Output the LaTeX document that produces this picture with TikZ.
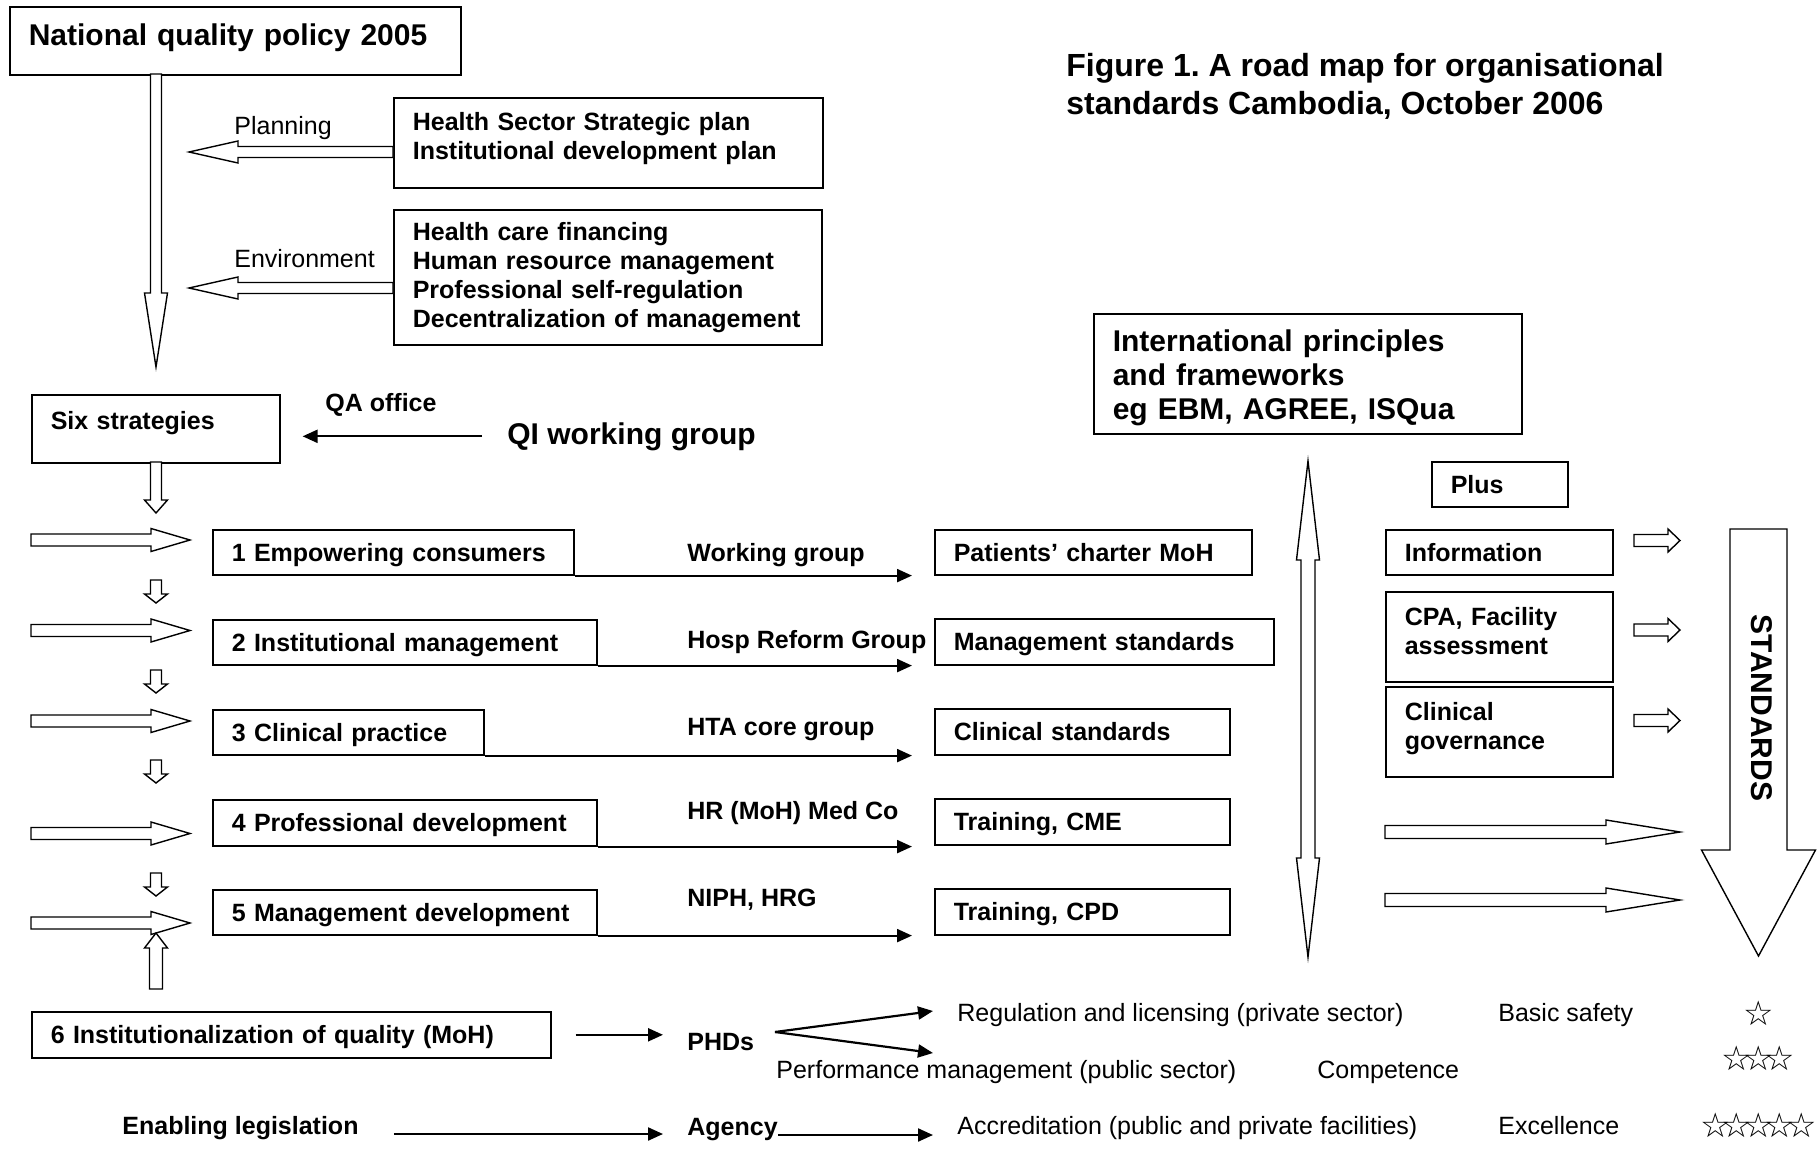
\documentclass[tikz,border=0pt]{standalone}
\usepackage{fontspec}
\setmainfont{Liberation Sans}
\newfontfamily\starfont{DejaVu Sans}
\usepackage{tikz}
\usetikzlibrary{arrows.meta}
\frenchspacing

\newcommand{\smtxt}{\fontsize{12.5pt}{14.5pt}\selectfont}
\newcommand{\bgtxt}{\fontsize{15pt}{17pt}\selectfont}
\newcommand{\tltxt}{\fontsize{16pt}{19pt}\selectfont}
\newcommand{\sttxt}{\starfont\bfseries\fontsize{17pt}{18pt}\selectfont}
% hollow block arrow: tip, direction, length, shaft half width, head half width, head length
\newcommand{\blockarrow}[6]{%
	\draw[hollow, shift={#1}, rotate=#2] (0,0) -- (-#6,#5) -- (-#6,#4) -- (-#3,#4)
	-- (-#3,-#4) -- (-#6,-#4) -- (-#6,-#5) -- cycle;}

\begin{document}
\begin{tikzpicture}[x=0.5pt, y=-0.5pt,
	box/.style 2 args={draw, line width=0.8pt, anchor=north west, align=left,
		inner xsep=9.5pt, inner ysep=0pt, font=\smtxt\bfseries,
		text width=#1, minimum height=#2, text depth=0pt},
	lbl/.style={anchor=base west, inner sep=0pt, font=\smtxt},
	hollow/.style={draw, fill=white, line width=0.7pt},
	conn/.style={line width=1.1pt, -{Triangle[length=7.5pt,width=6.5pt]}},
	stars/.style={font=\sttxt, inner sep=0pt}]
	\useasboundingbox (0,0) rectangle (1817,1151);

	% Policy and plans
	\node[box={206.5pt}{34pt}, font=\bgtxt\bfseries, text depth=6.6pt] (natl) at (9,6) {National quality policy 2005};
	\node[box={195.5pt}{45pt}, text depth=21.7pt] (hsp) at (393,97) {Health Sector Strategic plan\\Institutional development plan};
	\node[box={195pt}{67.5pt}, text depth=46pt] (env) at (393,209) {Health care financing\\Human resource management\\Professional self-regulation\\Decentralization of management};
	\node[lbl] (plan) at (234,134) {Planning};
	\node[lbl] (envlbl) at (234,267) {Environment};
	\node[anchor=north west, inner sep=0pt, align=left, font=\tltxt\bfseries] (title) at (1066,53)
		{Figure 1. A road map for organisational\\standards Cambodia, October 2006};

	\blockarrow{(189,152)}{180}{204}{5.5}{11}{49}
	\blockarrow{(189,288)}{180}{204}{5.5}{11}{49}
	\blockarrow{(156,367)}{-90}{293}{5.5}{11.5}{74}

	% Six strategies
	\node[box={105pt}{34pt}, text depth=8pt] (six) at (31,394) {Six strategies};
	\node[lbl, font=\smtxt\bfseries] (qa) at (325,411) {QA office};
	\node[lbl, font=\bgtxt\bfseries] (qi) at (507,444) {QI working group};
	\draw[conn, shorten <=12.5pt, shorten >=11pt] (qi.west) -- (qi.west -| six.east);
	\blockarrow{(156,513)}{-90}{51}{5.5}{11.5}{13}

	\node[box={161.5pt}{22.5pt}] (b1) at (212,529) {1 Empowering consumers};
	\node[box={173pt}{22.5pt}] (b2) at (212,619) {2 Institutional management};
	\node[box={116.5pt}{22.5pt}] (b3) at (212,709) {3 Clinical practice};
	\node[box={173pt}{23pt}] (b4) at (212,799) {4 Professional development};
	\node[box={173pt}{22.5pt}] (b5) at (212,889) {5 Management development};
	\node[box={240.5pt}{23pt}] (b6) at (31,1011) {6 Institutionalization of quality (MoH)};

	\foreach \y in {540,630.5,721,833.5,923}
		{\blockarrow{(190,\y)}{0}{159}{6}{11.5}{39}}
	\foreach \y in {603,693,783,896}
		{\blockarrow{(156,\y)}{-90}{23}{5.5}{11.5}{9}}
	\blockarrow{(156,933)}{90}{56}{6.5}{11.5}{15}

	% Groups and standards
	\node[lbl, font=\smtxt\bfseries] (wg) at (687,561) {Working group};
	\node[lbl, font=\smtxt\bfseries] (hrg) at (687,648) {Hosp Reform Group};
	\node[lbl, font=\smtxt\bfseries] (hta) at (687,735) {HTA core group};
	\node[lbl, font=\smtxt\bfseries] (hr) at (687,819) {HR (MoH) Med Co};
	\node[lbl, font=\smtxt\bfseries] (niph) at (687,906) {NIPH, HRG};

	\node[box={139.5pt}{22.5pt}] (pc) at (934,529) {Patients’ charter MoH};
	\node[box={150.5pt}{23pt}] (ms) at (934,618) {Management standards};
	\node[box={128.5pt}{23pt}] (cs) at (934,708) {Clinical standards};
	\node[box={128.5pt}{23pt}] (tcme) at (934,798) {Training, CME};
	\node[box={128.5pt}{23pt}] (tcpd) at (934,888) {Training, CPD};

	\foreach \a/\b in {b1/pc, b2/ms, b3/cs, b4/tcme, b5/tcpd}
		\draw[conn, shorten >=11pt] (\a.south east) -- (\a.south east -| \b.west);

	% International principles and the standards
	\node[box={195pt}{60pt}, font=\bgtxt\bfseries, text depth=33.6pt] (intl) at (1093,313) {International principles\\and frameworks\\eg EBM, AGREE, ISQua};
	\coordinate (ut) at (1308,461);
	\coordinate (lt) at (1308,957);
	\draw[hollow] (ut) -- (1319.5,560) -- (1315,560) -- (1315,858) -- (1319.5,858) -- (lt)
		-- (1296.5,858) -- (1301,858) -- (1301,560) -- (1296.5,560) -- cycle;

	\node[box={49pt}{22.5pt}] (plus) at (1431,461) {Plus};
	\node[box={94.5pt}{22.5pt}] (info) at (1385,529) {Information};
	\node[box={94.5pt}{45pt}, text depth=20.3pt] (cpa) at (1385,591) {CPA, Facility\\assessment};
	\node[box={94.5pt}{45pt}, text depth=20.6pt] (cgov) at (1385,686) {Clinical\\governance};

	\foreach \y in {540.5,630,720.5}
		{\blockarrow{(1680,\y)}{0}{46}{6}{11.5}{12}}
	\foreach \y in {832,900}
		{\blockarrow{(1680,\y)}{0}{295}{6.5}{12}{74}}
	\blockarrow{(1758.5,956)}{-90}{427}{28.5}{57}{106}
	\node[rotate=-90, font=\bgtxt\bfseries] (std) at (1762,708) {STANDARDS};

	% Regulation routes
	\node[lbl, font=\smtxt\bfseries] (phd) at (687,1050) {PHDs};
	\draw[conn, shorten <=12pt, shorten >=12pt] (b6.east) -- (b6.east -| phd.west);
	\coordinate (fork) at (775,1032);
	\coordinate (regtip) at (933,1011);
	\coordinate (perftip) at (933,1053);
	\draw[conn] (fork) -- (regtip);
	\draw[conn] (fork) -- (perftip);
	\node[lbl] (reg) at (957,1021) {Regulation and licensing (private sector)};
	\node[lbl] (basic) at (1498,1021) {Basic safety};
	\node[lbl] (perf) at (776,1078) {Performance management (public sector)};
	\node[lbl] (comp) at (1317,1078) {Competence};

	\node[lbl, font=\smtxt\bfseries] (enab) at (122,1134) {Enabling legislation};
	\node[lbl, font=\smtxt\bfseries] (agency) at (687,1135) {Agency};
	\node[lbl] (accr) at (957,1134) {Accreditation (public and private facilities)};
	\node[lbl] (excel) at (1498,1134) {Excellence};
	\draw[conn, shorten <=17.5pt, shorten >=12pt] (enab.base east) -- (enab.base east -| agency.west);
	\draw[conn, shorten >=12pt] (agency.base east) -- (agency.base east -| accr.west);

	% Stars
	\node[stars] (star1) at (1759,1013) {☆};
	\node[stars] (star3) at (1758.5,1058) {☆\kern-4.5pt☆\kern-4.5pt☆};
	\node[stars] (star5) at (1758.5,1125.5) {☆\kern-4.5pt☆\kern-4.5pt☆\kern-4.5pt☆\kern-4.5pt☆};
\end{tikzpicture}
\end{document}
